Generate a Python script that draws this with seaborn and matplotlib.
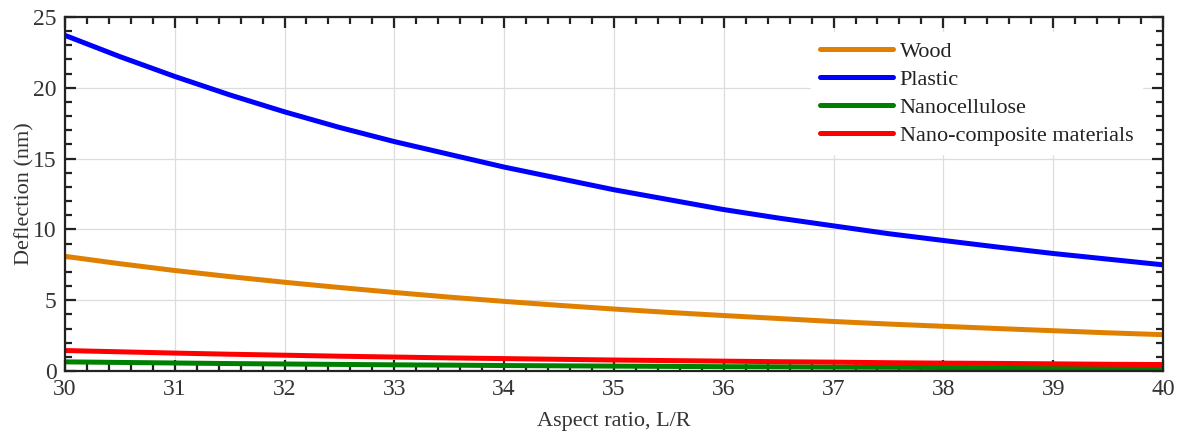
import numpy as np
import pandas as pd
import matplotlib
matplotlib.use("Agg")
import matplotlib.pyplot as plt
import seaborn as sns
from matplotlib.ticker import MultipleLocator

# aspect ratio L/R (at half steps)
aspect = [30, 30.5, 31, 31.5, 32, 32.5, 33, 33.5, 34, 34.5, 35,
          35.5, 36, 36.5, 37, 37.5, 38, 38.5, 39, 39.5, 40]

wood = [8.10, 7.58, 7.10, 6.67, 6.27, 5.90, 5.55, 5.22, 4.92, 4.64, 4.38,
        4.14, 3.92, 3.71, 3.50, 3.32, 3.16, 3.00, 2.85, 2.70, 2.57]
plastic = [23.7, 22.2, 20.8, 19.5, 18.3, 17.2, 16.2, 15.3, 14.4, 13.6, 12.8,
           12.1, 11.4, 10.8, 10.25, 9.7, 9.22, 8.75, 8.3, 7.9, 7.5]
nanocellulose = [0.65, 0.61, 0.57, 0.53, 0.50, 0.47, 0.44, 0.42, 0.39, 0.37, 0.35,
                 0.33, 0.31, 0.30, 0.28, 0.27, 0.25, 0.24, 0.23, 0.22, 0.21]
nanocomposite = [1.45, 1.36, 1.27, 1.19, 1.12, 1.05, 0.99, 0.93, 0.88, 0.83, 0.78,
                 0.74, 0.70, 0.66, 0.63, 0.59, 0.56, 0.54, 0.51, 0.48, 0.46]

names = ["Wood", "Plastic", "Nanocellulose", "Nano-composite materials"]
colors = ["#E08000", "#0000FF", "#008000", "#FF0000"]

df = pd.DataFrame({"x": aspect, "Wood": wood, "Plastic": plastic,
                   "Nanocellulose": nanocellulose,
                   "Nano-composite materials": nanocomposite})
long = df.melt(id_vars="x", var_name="material", value_name="y")

sns.set_style("ticks")
plt.rcParams['font.family'] = ['Liberation Serif', 'DejaVu Serif']

fig, ax = plt.subplots(figsize=(11.8, 4.34), dpi=100)
fig.subplots_adjust(left=0.055, right=0.9856, top=0.961, bottom=0.145)

sns.lineplot(data=long, x="x", y="y", hue="material", hue_order=names,
             palette=colors, linewidth=3.6, ax=ax)

ax.set_xlim(30, 40)
ax.set_ylim(0, 25)
ax.xaxis.set_major_locator(MultipleLocator(1))
ax.xaxis.set_minor_locator(MultipleLocator(0.2))
ax.yaxis.set_major_locator(MultipleLocator(5))
ax.yaxis.set_minor_locator(MultipleLocator(1))
ax.grid(True, which="major", color="#dddddd", linewidth=0.9)
ax.tick_params(which="both", direction="in", top=True, right=True,
               width=1.6, colors="#222222", labelcolor="#333333", labelsize=17)
ax.tick_params(which="major", length=8, pad=6)
ax.tick_params(which="minor", length=5)
for s in ax.spines.values():
    s.set_linewidth(1.6)
    s.set_color("#222222")

ax.set_xlabel("Aspect ratio, L/R", fontsize=16, color="#333333", labelpad=8)
ax.set_ylabel("Deflection (nm)", fontsize=16, color="#333333", labelpad=-1)

leg = ax.legend(loc="upper right", bbox_to_anchor=(0.987, 0.975), fontsize=16,
                frameon=True, framealpha=1, edgecolor="white", fancybox=False,
                handlelength=3.3, handletextpad=0.3, labelspacing=0.33,
                borderaxespad=0.3)
leg.set_title(None)
for t in leg.get_texts():
    t.set_color("#222222")

fig.savefig("out.png", dpi=100)
